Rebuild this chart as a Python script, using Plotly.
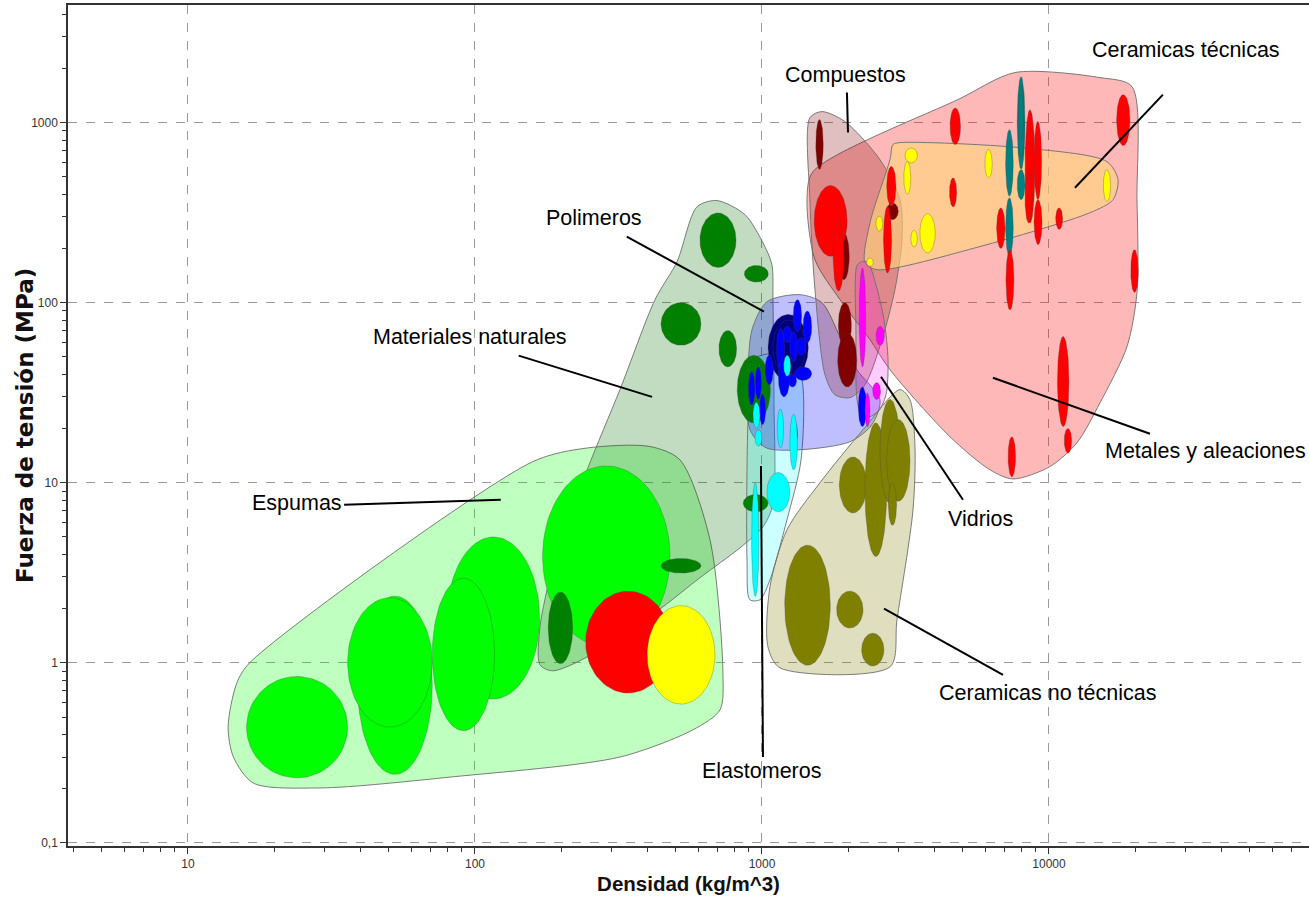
import numpy as np
import plotly.graph_objects as go

# ---------------- Material bubbles: density range (kg/m^3) and strength range (MPa)
espumas_rho = [(16, 36), (39, 71), (36, 71), (80, 168), (71, 117), (172, 478)]
espumas_sig = [(0.23, 0.84), (0.24, 2.35), (0.44, 2.3), (0.63, 5.0), (0.42, 2.95), (1.23, 12.4)]

espumas_metalicas_rho = [(243, 481)]
espumas_metalicas_sig = [(0.68, 2.5)]

espumas_ceramicas_rho = [(398, 686)]
espumas_ceramicas_sig = [(0.59, 2.08)]

naturales_rho = [(608, 812), (868, 1052), (445, 613), (708, 816), (820, 1070), (835, 1050),
                 (180, 219), (445, 613), (860, 1050)]
naturales_sig = [(157, 315), (130, 161), (58, 100), (44, 70), (21.5, 51), (23, 48),
                 (0.99, 2.47), (3.15, 3.8), (6.9, 8.6)]

polimeros_rigidos_rho = [(1050, 1450), (1090, 1420)]
polimeros_rigidos_sig = [(37, 86), (40, 80)]

polimeros_rho = [(1285, 1375), (1390, 1490), (1125, 1200), (1185, 1270), (1250, 1330),
                 (1320, 1420), (1300, 1490), (1235, 1320), (1140, 1250), (1025, 1095),
                 (896, 946), (946, 997), (980, 1030), (2165, 2315), (1260, 1330)]
polimeros_sig = [(69, 104), (60, 90), (42, 72), (60, 74), (47, 69),
                 (51, 64), (37, 44), (34, 40), (30, 50), (35, 51),
                 (27, 41.5), (29, 44), (21, 31), (20.5, 34), (16, 22)]

elastomeros_rho = [(920, 976), (1040, 1250), (1130, 1190), (1250, 1330), (930, 984),
                   (945, 1000), (1190, 1260)]
elastomeros_sig = [(2.34, 10), (6.9, 11.4), (15.6, 25.7), (11.8, 24), (20, 28),
                   (16, 19.7), (39, 51)]

compuestos_rho = [(1540, 1635), (1845, 2015), (2720, 2985), (1845, 2050), (1835, 2140)]
compuestos_sig = [(550, 1040), (134, 244), (289, 358), (57, 100), (34, 68)]

ceramicas_tec_a_rho = [(7750, 8250), (7800, 8200), (7850, 8150), (7750, 8250), (7060, 7510), (7060, 7510)]
ceramicas_tec_a_sig = [(550, 1800), (640, 1600), (800, 1450), (373, 548), (390, 914), (181, 382)]

metales_rho = [(1520, 1980), (1770, 1930), (2720, 2930), (2650, 2830), (4520, 4920),
               (4500, 4770), (8250, 8940), (8870, 9430), (8250, 8750), (8870, 9460),
               (6570, 7030), (10550, 11160), (17200, 19150), (7080, 7550), (19270, 20480),
               (10700, 11740), (11300, 12000), (7200, 7650)]
metales_sig = [(181, 447), (116, 283), (343, 572), (146, 343), (755, 1207),
               (340, 493), (277, 1180), (373, 1017), (277, 525), (210, 373),
               (200, 336), (255, 336), (745, 1430), (91, 197), (114, 197),
               (20.5, 65), (14.6, 20), (10.8, 18)]

ceramicas_tec_b_rho = [(3150, 3480), (3120, 3300), (2495, 2635), (3300, 3480), (3550, 4015),
                       (2316, 2443), (5980, 6345), (15460, 16400)]
ceramicas_tec_b_sig = [(597, 723), (400, 610), (250, 302), (204, 252), (189, 312),
                       (159, 177), (493, 708), (365, 548)]

vidrios_rho = [(2180, 2300), (2495, 2670), (2430, 2590), (2285, 2380)]
vidrios_sig = [(44, 156), (58, 74), (29, 36), (20.5, 31.5)]

ceramicas_nt_rho = [(1200, 1730), (1820, 2250), (2225, 2660), (1860, 2315), (2285, 2720),
                    (2577, 3027), (2720, 3280), (2755, 2945)]
ceramicas_nt_sig = [(0.97, 4.5), (1.56, 2.5), (0.96, 1.46), (6.8, 13.9), (3.9, 21.5),
                    (7.7, 29), (7.9, 22.4), (5.8, 10)]

# ---------------- Family envelopes (outline vertices)
env_espumas_rho = [16.4, 159, 246, 407, 518, 659, 731, 714, 575, 320, 84, 28.8, 16.9, 14.4, 13.8, 14.8]
env_espumas_sig = [1.0, 13.1, 15.6, 15.9, 13.4, 4.82, 0.88, 0.548, 0.425, 0.30, 0.233, 0.202, 0.215, 0.30, 0.441, 0.774]

env_naturales_rho = [594, 697, 873, 1008, 1083, 1092, 1101, 1092, 1008, 838, 608, 452, 273, 187,
                     168.5, 168.5, 187, 246, 320, 424, 506]
env_naturales_sig = [341, 369, 308, 215, 163, 104, 28.9, 7.55, 5.70, 4.35, 2.97, 2.05, 1.18, 0.903,
                     0.975, 1.585, 3.41, 11.8, 32.9, 104, 169]

env_elastomeros_rho = [923, 1252, 1378, 1368, 1222, 1066, 984, 908, 887, 894]
env_elastomeros_sig = [48.2, 51.4, 37.4, 13.4, 6.23, 2.89, 2.24, 2.24, 3.73, 22.4]

env_polimeros_rho = [923, 1041, 1356, 1619, 1870, 2143, 2577, 2417, 2027, 1356, 1032, 908, 894]
env_polimeros_sig = [70.8, 101.3, 110.8, 100, 64.7, 42.4, 28.9, 21.0, 16.9, 15.25, 15.65, 19.7, 37.4]

env_metales_rho = [1435, 1530, 1870, 2379, 2793, 4520, 6230, 7493, 10080, 12520, 15060, 18700,
                   20260, 20260, 19460, 15060, 7610, 4895, 1506]
env_metales_sig = [373, 173, 104, 62.3, 42.4, 18.0, 11.8, 10.5, 12.3, 16.7, 27.8, 57.0,
                   113.6, 373, 1585, 1778, 1896, 1359, 534]

env_compuestos_rho = [1469, 1619, 1946, 2577, 3027, 3075, 2905, 2619, 2285, 2027, 1796, 1658, 1530, 1469]
env_compuestos_sig = [1066, 1151, 1013, 623, 373, 224, 118, 62.3, 35.0, 29.7, 30.8, 39.8, 118, 373]

env_ceramicas_tec_rho = [2860, 3027, 7925, 15920, 17400, 16710, 13900, 5750, 2516, 2285, 2379, 2793]
env_ceramicas_tec_sig = [755, 774, 726, 607, 482, 373, 316, 205, 152.5, 167, 278, 623]

env_vidrios_rho = [2143, 2230, 2340, 2495, 2662, 2749, 2705, 2536, 2285, 2160, 2126]
env_vidrios_sig = [160.6, 169, 167, 126, 80.4, 48.2, 30.8, 24.8, 23.0, 27.1, 70.8]

env_ceramicas_nt_rho = [3027, 3279, 3413, 3359, 2953, 2793, 1155, 1049, 1066, 1222, 1592, 2249]
env_ceramicas_nt_sig = [32.9, 28.9, 15.85, 7.08, 1.73, 0.95, 0.938, 1.227, 2.64, 5.48, 10, 19.7]

# ---------------- Labels and leader lines
etiquetas = ["Ceramicas técnicas", "Compuestos", "Polimeros", "Materiales naturales", "Espumas",
             "Elastomeros", "Ceramicas no técnicas", "Vidrios", "Metales y aleaciones"]
etiqueta_rho = [30000, 1962, 260, 96, 24, 1000, 9920, 5750, 34970]
etiqueta_sig = [2545, 1848, 297, 64.7, 7.74, 0.251, 0.681, 6.31, 15.06]
guia_desde_rho = [24950, 1977, 338, 142, 35, 992, 6915, 5015, 22480]
guia_desde_sig = [1431, 1468, 232.6, 50.8, 7.55, 12.4, 0.858, 8.05, 18.7]
guia_hasta_rho = [12320, 1994, 1016, 414, 123, 1008, 2662, 2598, 6380]
guia_hasta_sig = [435, 880, 89.1, 30.0, 8.05, 0.30, 2.0, 38.8, 38.3]

# Axis ticks
x_ticks = [10, 100, 1000, 10000]
x_ticktext = ["10", "100", "1000", "10000"]
y_ticks = [0.1, 1, 10, 100, 1000]
y_ticktext = ["0,1", "1", "10", "100", "1000"]

FONT = "Liberation Sans, Arial, sans-serif"
NARROW = "Liberation Sans Narrow, Arial Narrow, Liberation Sans, Arial, sans-serif"

fig = go.Figure()


def envolvente(rho, sig, fill):
    xs = list(rho) + [rho[0]]
    ys = list(sig) + [sig[0]]
    fig.add_trace(go.Scatter(
        x=xs, y=ys, mode="lines", fill="toself", fillcolor=fill,
        line=dict(color="rgba(110,110,110,0.9)", width=1, shape="spline", smoothing=0.8),
        hoverinfo="skip", showlegend=False))


def burbujas(rho_list, sig_list, color, n=90):
    t = np.linspace(0, 2 * np.pi, n)
    for (r0, r1), (s0, s1) in zip(rho_list, sig_list):
        lx0, lx1 = np.log10(r0), np.log10(r1)
        ly0, ly1 = np.log10(s0), np.log10(s1)
        cx, cy = (lx0 + lx1) / 2, (ly0 + ly1) / 2
        ax, ay = (lx1 - lx0) / 2, (ly1 - ly0) / 2
        fig.add_trace(go.Scatter(
            x=10 ** (cx + ax * np.cos(t)), y=10 ** (cy + ay * np.sin(t)),
            mode="lines", fill="toself", fillcolor=color,
            line=dict(color="rgba(70,70,70,0.3)", width=1),
            hoverinfo="skip", showlegend=False))


# Envelopes (semi-transparent), back to front
envolvente(env_espumas_rho, env_espumas_sig, "rgba(0,255,0,0.25)")
envolvente(env_naturales_rho, env_naturales_sig, "rgba(0,110,0,0.24)")
envolvente(env_elastomeros_rho, env_elastomeros_sig, "rgba(0,255,255,0.2)")
envolvente(env_polimeros_rho, env_polimeros_sig, "rgba(0,0,255,0.25)")
envolvente(env_metales_rho, env_metales_sig, "rgba(255,0,0,0.28)")
envolvente(env_compuestos_rho, env_compuestos_sig, "rgba(128,0,0,0.25)")
envolvente(env_ceramicas_tec_rho, env_ceramicas_tec_sig, "rgba(255,215,120,0.6)")
envolvente(env_vidrios_rho, env_vidrios_sig, "rgba(255,0,255,0.2)")
envolvente(env_ceramicas_nt_rho, env_ceramicas_nt_sig, "rgba(128,128,0,0.25)")

# Bubbles
burbujas(espumas_rho, espumas_sig, "#00ff00")
burbujas(espumas_metalicas_rho, espumas_metalicas_sig, "#ff0000")
burbujas(espumas_ceramicas_rho, espumas_ceramicas_sig, "#ffff00")
burbujas(naturales_rho, naturales_sig, "#008000")
burbujas(polimeros_rigidos_rho, polimeros_rigidos_sig, "#000080")
burbujas(polimeros_rho, polimeros_sig, "#0000ff")
burbujas(elastomeros_rho, elastomeros_sig, "#00ffff")
burbujas(compuestos_rho, compuestos_sig, "#800000")
burbujas(ceramicas_tec_a_rho, ceramicas_tec_a_sig, "#008080")
burbujas(metales_rho, metales_sig, "#ff0000")
burbujas(ceramicas_tec_b_rho, ceramicas_tec_b_sig, "#ffff00")
burbujas(vidrios_rho, vidrios_sig, "#ff00ff")
burbujas(ceramicas_nt_rho, ceramicas_nt_sig, "#808000")

# Leader lines and labels
for i, txt in enumerate(etiquetas):
    fig.add_trace(go.Scatter(
        x=[guia_desde_rho[i], guia_hasta_rho[i]], y=[guia_desde_sig[i], guia_hasta_sig[i]],
        mode="lines", line=dict(color="black", width=2),
        hoverinfo="skip", showlegend=False))
    fig.add_annotation(
        x=np.log10(etiqueta_rho[i]), y=np.log10(etiqueta_sig[i]), xref="x", yref="y",
        text=txt, showarrow=False, xanchor="center", yanchor="middle",
        font=dict(family=FONT, size=21.5, color="black"))

# Vertical axis title, placed next to the tick labels
fig.add_annotation(
    x=-0.035, y=0.5, xref="paper", yref="paper",
    text="<b>Fuerza de tensión (MPa)</b>", textangle=-90, showarrow=False,
    xanchor="center", yanchor="middle",
    font=dict(family="DejaVu Sans, Liberation Sans, sans-serif", size=23, color="#111"))


def menores(lo, hi):
    vals = []
    for e in range(lo, hi):
        for m in range(2, 10):
            vals.append(m * 10.0 ** e)
    return vals


fig.update_xaxes(
    type="log", range=[0.582, 4.906],
    tickvals=x_ticks, ticktext=x_ticktext,
    tickfont=dict(family=NARROW, size=12, color="#333"),
    ticks="outside", ticklen=6, tickcolor="#333",
    showgrid=True, gridcolor="#9a9a9a", griddash="dash", gridwidth=1,
    minor=dict(tickvals=[v for v in menores(0, 5) if 3.8 < v < 80000],
               ticks="outside", ticklen=4, tickcolor="#333", showgrid=False),
    showline=True, linecolor="#333", linewidth=2, mirror=True,
    zeroline=False,
    title=dict(text="<b>Densidad (kg/m^3)</b>", font=dict(family=FONT, size=20.5, color="#111"),
               standoff=6),
)
fig.update_yaxes(
    type="log", range=[-1.017, 3.653],
    tickvals=y_ticks, ticktext=y_ticktext,
    tickfont=dict(family=NARROW, size=12, color="#333"),
    ticks="outside", ticklen=6, tickcolor="#333",
    showgrid=True, gridcolor="#9a9a9a", griddash="dash", gridwidth=1,
    minor=dict(tickvals=[v for v in menores(-1, 4) if v < 4500],
               ticks="outside", ticklen=4, tickcolor="#333", showgrid=False),
    showline=True, linecolor="#333", linewidth=1.5,
    zeroline=False,
)

fig.update_layout(
    width=1309, height=905,
    margin=dict(l=68, r=0, t=5, b=59),
    paper_bgcolor="white", plot_bgcolor="white",
    showlegend=False,
)

fig.write_html("out.html")
